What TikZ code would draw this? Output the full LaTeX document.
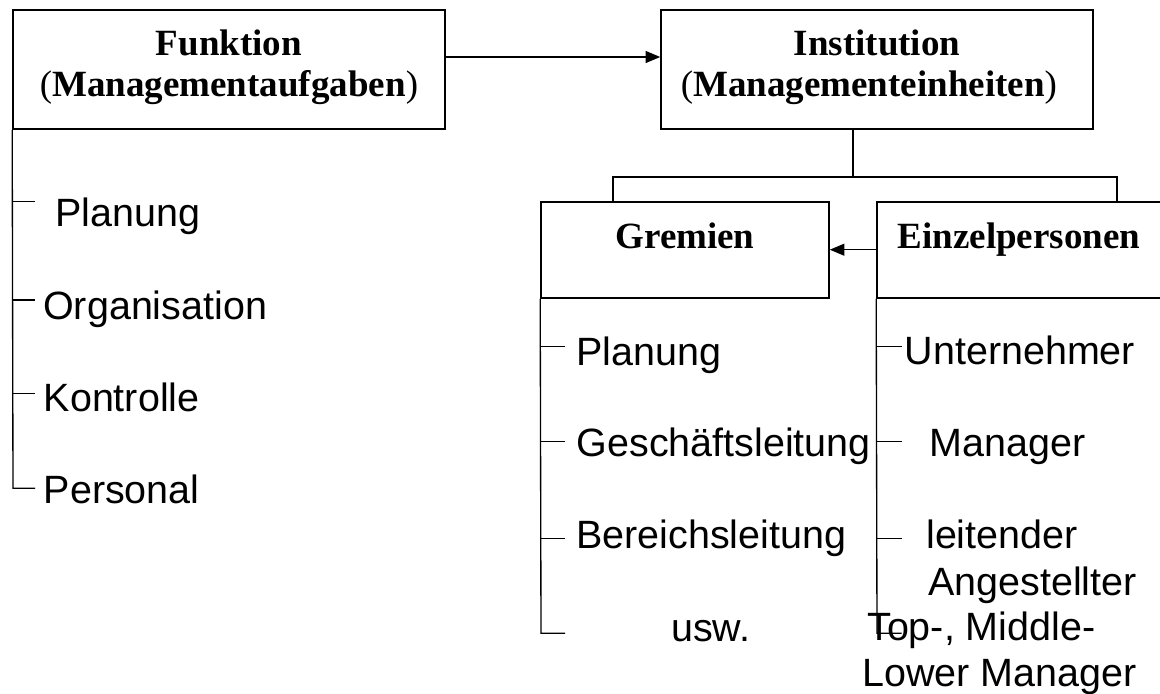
\documentclass[tikz,border=0pt]{standalone}
\usepackage{fontspec}
\setmainfont{Liberation Serif}
\setsansfont{Liberation Sans}
\usetikzlibrary{arrows.meta}
\begin{document}
\begin{tikzpicture}[x=0.75pt,y=-0.75pt,
  box/.style={draw,line width=1.2pt,minimum width=#1,inner sep=0pt},
  title/.style={anchor=base,inner sep=0pt,font=\fontsize{27.75pt}{32pt}\selectfont\bfseries},
  item/.style={anchor=base west,inner sep=0pt,font=\sffamily\fontsize{29.6pt}{35pt}\selectfont},
  link/.style={line width=1pt},
  arr/.style={line width=1pt,-{Triangle[length=11pt,width=9pt]}}]
\useasboundingbox (0,0) rectangle (1160,693);

% main boxes
\node[box=324pt,minimum height=89.25pt] (funk) at (229,69.5) {};
\node[box=324pt,minimum height=89.25pt] (inst) at (877,69.5) {};
\node[title] (funkA) at (229,55) {Funktion};
\node[title] (funkB) at (229,96.7) {\mdseries(\bfseries Managementaufgaben\mdseries)};
\node[title] (instA) at (877,55) {Institution};
\node[title] (instB) at (869,96.7) {\mdseries(\bfseries Managementeinheiten\mdseries)};

% sub boxes
\node[box=216pt,minimum height=72pt] (grem) at (685,249.7) {};
\node[box=213pt,minimum height=72pt] (einz) at (1019,249.7) {};
\node[title] (gremT) at (685,248.3) {Gremien};
\node[title] (einzT) at (1019,248.3) {Einzelpersonen};

% connectors between boxes
\draw[arr] (funk.east |- 0,57) -- (inst.west |- 0,57);
\coordinate (fork) at (853,177);
\draw[link] (853,0 |- inst.south) -- (fork);
\draw[link] (grem.north -| 613,0) -- (613,177) -- (1117,177) -- (einz.north -| 1117,0);
\draw[arr] (einz.west) -- (grem.east);

% Funktion branch
\coordinate (fEnd) at (13,488.3);
\draw[link] (funk.south west) -- (fEnd) -- (35,488.3);
\foreach \y in {201.7,300,393.3} \draw[link] (13,\y) -- (35,\y);
\node[item] (f1) at (55,226.7) {Planung};
\node[item] (f2) at (43,319.3) {Organisation};
\node[item] (f3) at (43.5,411) {Kontrolle};
\node[item] (f4) at (43.5,503.3) {Personal};

% Gremien branch
\coordinate (gEnd) at (541,633.3);
\draw[link] (grem.south west) -- (gEnd) -- (565,633.3);
\foreach \y in {346.7,441.7,538.3} \draw[link] (541,\y) -- (565,\y);
\node[item] (g1) at (576,365) {Planung};
\node[item] (g2) at (576.5,456.7) {Geschäftsleitung};
\node[item] (g3) at (576,548) {Bereichsleitung};
\node[item] (g4) at (671,641.7) {usw.};

% Einzelpersonen branch
\coordinate (eEnd) at (877,633.3);
\draw[link] (einz.south west) -- (eEnd) -- (901.7,633.3);
\foreach \y in {346.7,441.7,538.3} \draw[link] (877,\y) -- (901.7,\y);
\node[item] (e1) at (904.5,364.3) {Unternehmer};
\node[item] (e2) at (929.5,456.7) {Manager};
\node[item] (e3a) at (926,548.3) {leitender};
\node[item] (e3b) at (928,595) {Angestellter};
\node[item] (e4a) at (867,640) {Top-, Middle-};
\node[item] (e4b) at (862,686.7) {Lower Manager};
\end{tikzpicture}
\end{document}
